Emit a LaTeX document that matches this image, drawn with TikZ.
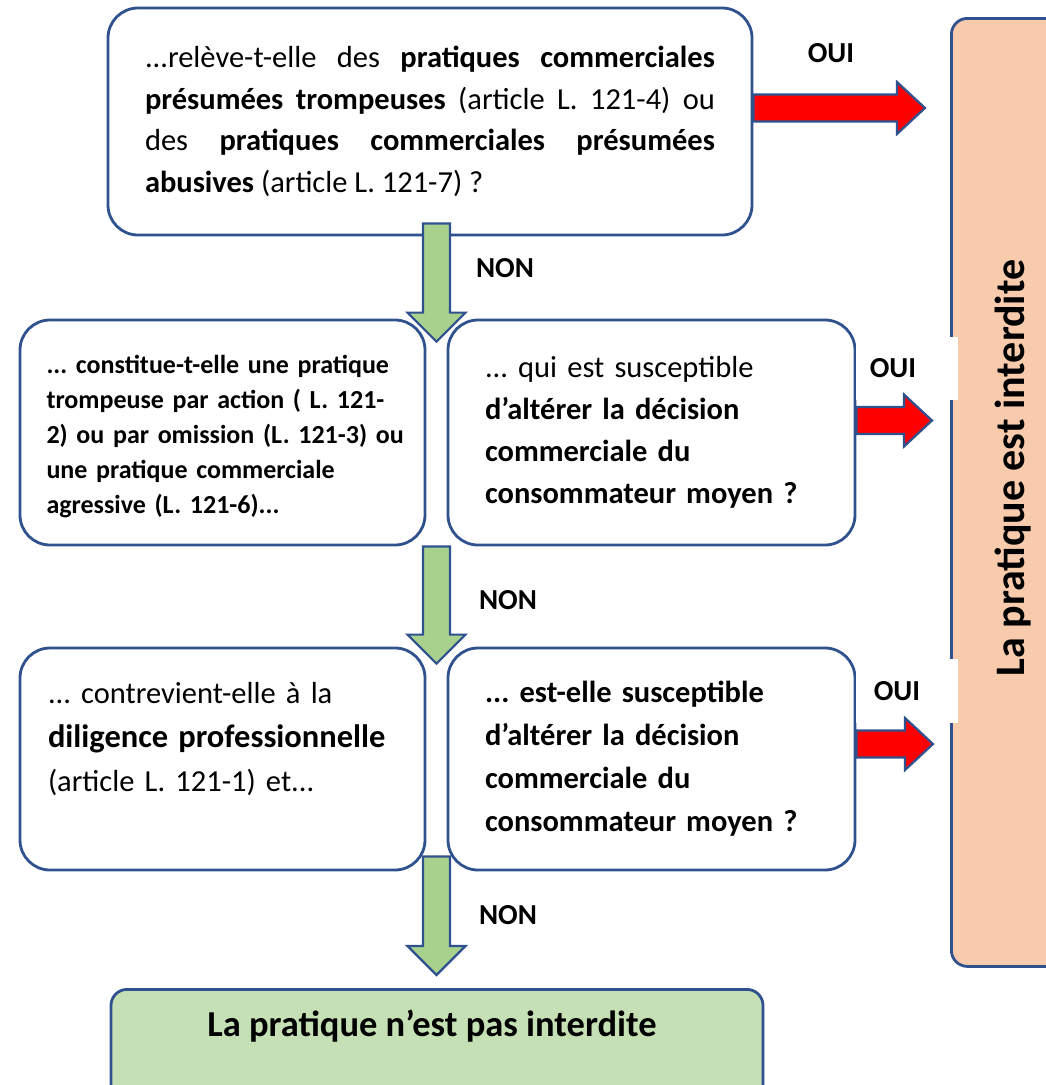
\documentclass[tikz,border=0pt]{standalone}
\usepackage{fontspec}
\setmainfont{Carlito}
\usetikzlibrary{calc}
\definecolor{bdr}{RGB}{47,82,143}
\definecolor{peach}{RGB}{248,203,173}
\definecolor{lgreen}{RGB}{197,224,180}
\definecolor{agreen}{RGB}{169,209,142}
\frenchspacing
\hyphenpenalty=10000
\exhyphenpenalty=10000
\newcommand\greenarrowD[2]{%
  \draw[garrow] ($(#1)+(-13.5,0)$) -- ($(#2)+(-13.5,-29)$) -- ($(#2)+(-29,-29)$) -- (#2)
    -- ($(#2)+(29,-29)$) -- ($(#2)+(13.5,-29)$) -- ($(#1)+(13.5,0)$) -- cycle;}
\newcommand\redarrowR[2]{%
  \draw[rarrow] ($(#1)+(0,-13.5)$) -- ($(#2)+(-28,-13.5)$) -- ($(#2)+(-28,-26)$) -- (#2)
    -- ($(#2)+(-28,26)$) -- ($(#2)+(-28,13.5)$) -- ($(#1)+(0,13.5)$) -- cycle;}
\begin{document}
\begin{tikzpicture}[x=1pt,y=-1pt,
  qbox/.style={draw=bdr, line width=2.8pt, rounded corners=30pt, fill=white, inner sep=0pt, align=left},
  endbox/.style={draw=bdr, line width=2.8pt, rounded corners=16pt, inner sep=0pt},
  lab/.style={font=\fontsize{29}{30}\selectfont\bfseries, inner sep=0pt},
  garrow/.style={draw=bdr, line width=2.2pt, fill=agreen, line join=miter},
  rarrow/.style={draw=bdr, line width=2.2pt, fill=red, line join=miter}]
\useasboundingbox (0,0) rectangle (1046,1085);
\clip (0,0) rectangle (1046,1085);

% question boxes
\node[qbox, align=justify, minimum width=644pt, minimum height=227pt, text width=570pt,
  font=\fontsize{30.5}{41.5}\selectfont] (top) at (430,121.5)
  {...relève-t-elle des \textbf{pratiques commerciales}\linebreak
   \textbf{présumées trompeuses} (article L. 121-4) ou\linebreak
   des \textbf{pratiques commerciales présumées}\linebreak
   \textbf{abusives} (article L. 121-7) ?};

\node[qbox, minimum width=405pt, minimum height=225pt, text width=352pt,
  font=\fontsize{26}{35}\selectfont\bfseries] (midL) at (222.5,432.5)
  {\rule{0pt}{27pt}\mbox{... constitue-t-elle une pratique}\\
   \mbox{trompeuse par action ( L. 121-}\\
   \mbox{2) ou par omission (L. 121-3) ou}\\
   \mbox{une pratique commerciale}\\
   \mbox{agressive (L. 121-6)...}};

\node[qbox, minimum width=407pt, minimum height=225pt, text width=333pt,
  font=\fontsize{30.5}{42}\selectfont] (midR) at (651.5,432.5)
  {... qui est susceptible\\
   \textbf{d’altérer la décision}\\
   \textbf{commerciale du}\\
   \textbf{consommateur moyen ?}};

\node[qbox, minimum width=405pt, minimum height=222pt, text width=349pt,
  font=\fontsize{30.5}{44}\selectfont] (lowL) at (222.5,759)
  {... contrevient-elle à la\\
   {\fontsize{32.5}{44}\selectfont\bfseries diligence professionnelle}\\
   (article L. 121-1) et...\\
   \mbox{}};

\node[qbox, minimum width=407pt, minimum height=222pt, text width=333pt,
  font=\fontsize{30.5}{43}\selectfont\bfseries] (lowR) at (651.5,759)
  {... est-elle susceptible\\
   d’altérer la décision\\
   commerciale du\\
   consommateur moyen ?};

% result boxes
\node[endbox, fill=peach, anchor=north west, minimum width=130pt, minimum height=948pt] (peach) at (950,17) {};
\node[rotate=90, font=\fontsize{42}{44}\selectfont\bfseries, inner sep=0pt] (peachtxt) at (1013,468) {La pratique est interdite};

\node[endbox, fill=lgreen, anchor=north, minimum width=652pt, minimum height=140pt] (bottom) at (437,988) {};
\node[font=\fontsize{36.5}{40}\selectfont\bfseries, inner sep=0pt] (bottomtxt) at ($(bottom.north)+(-5,38)$) {La pratique n’est pas interdite};

% labels
\node[lab] (oui1) at (831,53) {OUI};
\node[lab, fill=white, minimum width=102pt, minimum height=63pt] (oui2) at (907,368.5) {OUI\hspace*{28pt}};
\node[lab, fill=white, minimum width=102pt, minimum height=64pt] (oui3) at (907,691) {OUI\hspace*{20pt}};
\node[lab] (non1) at (505,268) {NON};
\node[lab] (non2) at (508,600) {NON};
\node[lab] (non3) at (508,915) {NON};

% connectors
\coordinate (gap1) at ($(midL.north east)!.5!(midR.north west)$);
\coordinate (gap2) at ($(lowL.north east)!.5!(lowR.north west)$);
\coordinate (g1s) at ($(top.south -| gap1)+(0,-13)$);
\coordinate (g1e) at ($(gap1)+(0,23)$);
\coordinate (g2s) at ($(midL.south east)!.5!(midR.south west)$);
\coordinate (g2e) at ($(gap2)+(0,17)$);
\coordinate (g3s) at ($($(lowL.south east)!.5!(lowR.south west)$)+(0,-15)$);
\coordinate (g3e) at ($(bottom.north -| g3s)+(0,-13)$);
\greenarrowD{g1s}{g1e}
\greenarrowD{g2s}{g2e}
\greenarrowD{g3s}{g3e}

\coordinate (r1s) at ($(top.east)+(0,-13.5)$);
\coordinate (r1e) at ($(r1s -| peach.west)+(-25,0)$);
\coordinate (r2s) at ($(midR.east)+(0,-12)$);
\coordinate (r2e) at ($(r2s -| peach.west)+(-18,0)$);
\coordinate (r3s) at ($(lowR.east)+(0,-15)$);
\coordinate (r3e) at ($(r3s -| peach.west)+(-17,0)$);
\redarrowR{r1s}{r1e}
\redarrowR{r2s}{r2e}
\redarrowR{r3s}{r3e}
\end{tikzpicture}
\end{document}
